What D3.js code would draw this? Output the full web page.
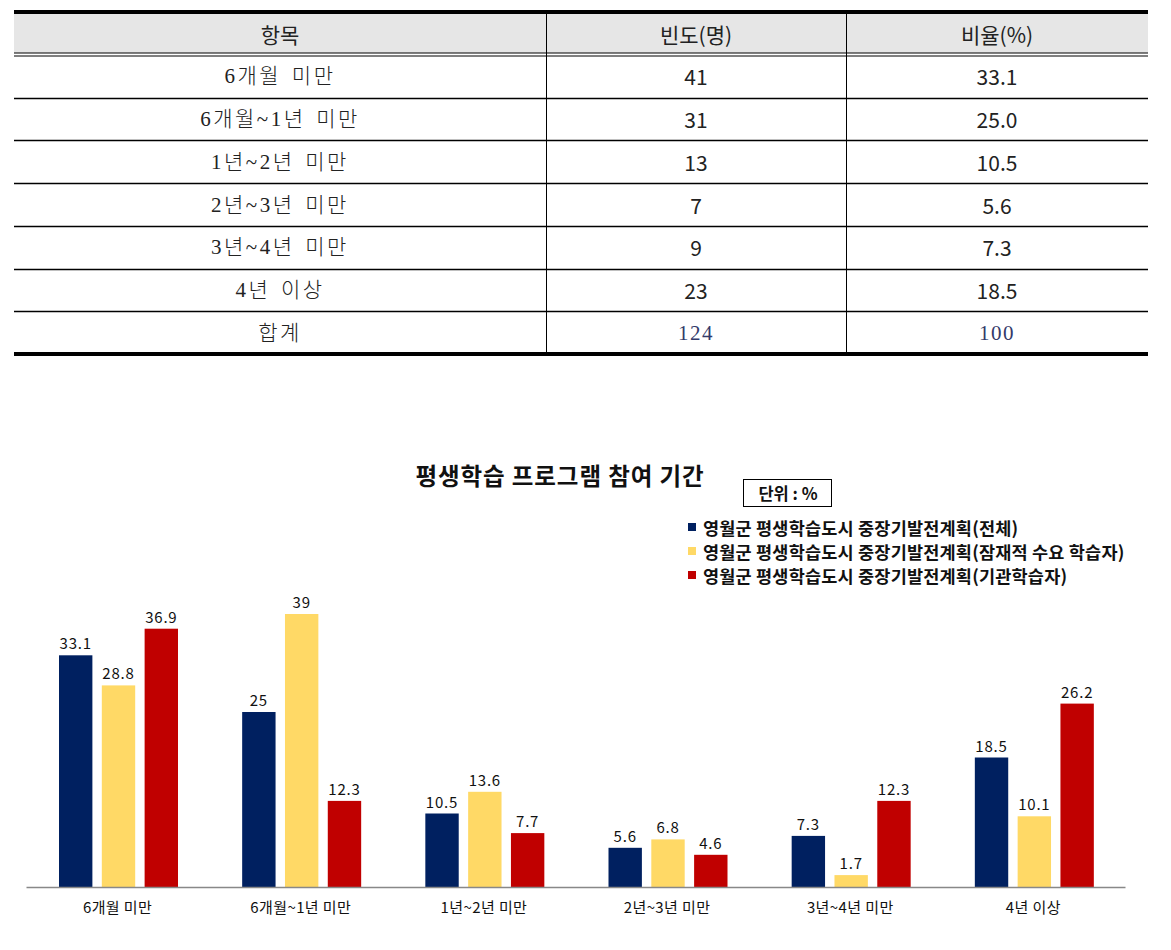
<!DOCTYPE html>
<html><head><meta charset="utf-8">
<script src="https://cdn.jsdelivr.net/npm/d3@7"></script>
<style>
html,body{margin:0;padding:0;background:#fff;}
svg{display:block;}
</style></head>
<body>
<svg id="c" width="1171" height="950"></svg>
<script>
// ---- table data ----
const tableHeaders = ["항목", "빈도(명)", "비율(%)"];
const tableItems = ["6개월 미만", "6개월~1년 미만", "1년~2년 미만", "2년~3년 미만", "3년~4년 미만", "4년 이상", "합계"];
const tableCounts = ["41", "31", "13", "7", "9", "23", "124"];
const tableRatios = ["33.1", "25.0", "10.5", "5.6", "7.3", "18.5", "100"];

// ---- chart data ----
const chartTitle = "평생학습 프로그램 참여 기간";
const unitLabel = "단위 : %";
const categories = ["6개월 미만", "6개월~1년 미만", "1년~2년 미만", "2년~3년 미만", "3년~4년 미만", "4년 이상"];
const seriesNames = [
  "영월군 평생학습도시 중장기발전계획(전체)",
  "영월군 평생학습도시 중장기발전계획(잠재적 수요 학습자)",
  "영월군 평생학습도시 중장기발전계획(기관학습자)"
];
const seriesAll = [33.1, 25, 10.5, 5.6, 7.3, 18.5];
const seriesPotential = [28.8, 39, 13.6, 6.8, 1.7, 10.1];
const seriesInstitution = [36.9, 12.3, 7.7, 4.6, 12.3, 26.2];
const seriesColors = ["#002060", "#FFD966", "#C00000"];

const svg = d3.select("#c");
const sans = "'Noto Sans CJK KR','Noto Sans',sans-serif";
const serif = "'Liberation Serif','Noto Sans CJK KR',serif";

// ================= TABLE =================
const tx = d3.scaleOrdinal().domain([0,1,2]).range([14, 546, 846]);
const colEnds = [546, 846, 1148];
const tLeft = 14, tRight = 1148;
const rowY = d3.scaleBand().domain(d3.range(tableItems.length)).range([55, 354]);
const tbl = svg.append("g");

tbl.append("rect").attr("x", tLeft).attr("y", 13).attr("width", tRight - tLeft).attr("height", 40).attr("fill", "#e6e6e6");
tbl.selectAll("text.h").data(tableHeaders).join("text")
  .attr("x", (d,i) => (tx(i) + colEnds[i]) / 2).attr("y", 34)
  .attr("text-anchor", "middle").attr("dominant-baseline", "central")
  .attr("font-family", sans).attr("font-size", 21).attr("fill", "#222").text(d => d);

const rows = tbl.selectAll("g.r").data(tableItems.map((d,i) => ({item: d, count: tableCounts[i], ratio: tableRatios[i], i})))
  .join("g").attr("transform", d => `translate(0,${rowY(d.i) + rowY.bandwidth()/2})`);
rows.append("text").attr("x", (tx(0) + colEnds[0]) / 2).attr("y", 0)
  .attr("text-anchor", "middle").attr("dominant-baseline", "central")
  .attr("font-family", serif).attr("font-size", 21).attr("font-weight", 300).attr("letter-spacing", 2.5).attr("word-spacing", 3)
  .attr("fill", "#222").text(d => d.item);
const isTotal = d => d.i === tableItems.length - 1;
rows.append("text").attr("x", (tx(1) + colEnds[1]) / 2).attr("y", 0)
  .attr("text-anchor", "middle").attr("dominant-baseline", "central")
  .attr("font-family", d => isTotal(d) ? serif : sans).attr("font-size", 21)
  .attr("letter-spacing", d => isTotal(d) ? 1.5 : 0)
  .attr("fill", d => isTotal(d) ? "#333a6a" : "#222").text(d => d.count);
rows.append("text").attr("x", (tx(2) + colEnds[2]) / 2).attr("y", 0)
  .attr("text-anchor", "middle").attr("dominant-baseline", "central")
  .attr("font-family", d => isTotal(d) ? serif : sans).attr("font-size", 21)
  .attr("letter-spacing", d => isTotal(d) ? 1.5 : 0)
  .attr("fill", d => isTotal(d) ? "#333a6a" : "#222").text(d => d.ratio);

tbl.append("rect").attr("x", tLeft).attr("y", 10).attr("width", tRight - tLeft).attr("height", 4).attr("fill", "#000");
tbl.append("line").attr("x1", tLeft).attr("x2", tRight).attr("y1", 53).attr("y2", 53).attr("stroke", "#000").attr("stroke-width", 1);
tbl.append("line").attr("x1", tLeft).attr("x2", tRight).attr("y1", 56).attr("y2", 56).attr("stroke", "#000").attr("stroke-width", 1);
tbl.selectAll("line.rl").data(d3.range(1, tableItems.length)).join("line")
  .attr("x1", tLeft).attr("x2", tRight)
  .attr("y1", d => Math.round(rowY(d)) + 0.5).attr("y2", d => Math.round(rowY(d)) + 0.5)
  .attr("stroke", "#000").attr("stroke-width", 1.3);
tbl.append("rect").attr("x", tLeft).attr("y", 352).attr("width", tRight - tLeft).attr("height", 4).attr("fill", "#000");
tbl.selectAll("line.cl").data([1,2]).join("line")
  .attr("x1", d => tx(d) + 0.5).attr("x2", d => tx(d) + 0.5).attr("y1", 14).attr("y2", 352)
  .attr("stroke", "#000").attr("stroke-width", 1);

// ================= CHART =================
const ch = svg.append("g");
ch.append("text").attr("x", 560).attr("y", 475).attr("text-anchor", "middle").attr("dominant-baseline", "central")
  .attr("font-family", sans).attr("font-weight", "bold").attr("font-size", 23.5).attr("letter-spacing", 0.9)
  .attr("fill", "#111").text(chartTitle);

ch.append("rect").attr("x", 743.5).attr("y", 479.5).attr("width", 88).attr("height", 27).attr("fill", "#fff").attr("stroke", "#000").attr("stroke-width", 1);
ch.append("text").attr("x", 788).attr("y", 493).attr("text-anchor", "middle").attr("dominant-baseline", "central")
  .attr("font-family", sans).attr("font-weight", "bold").attr("font-size", 16.5).attr("fill", "#111").text(unitLabel);

const leg = ch.selectAll("g.leg").data(seriesNames).join("g")
  .attr("transform", (d,i) => `translate(688,${527 + i*24})`);
leg.append("rect").attr("x", 0).attr("y", -4).attr("width", 8).attr("height", 8).attr("fill", (d,i) => seriesColors[i]);
leg.append("text").attr("x", 15).attr("y", 0).attr("dominant-baseline", "central")
  .attr("font-family", sans).attr("font-weight", "bold").attr("font-size", 17.5).attr("letter-spacing", 0.2)
  .attr("fill", "#111").text(d => d);

const baseline = 887;
const x0 = d3.scaleBand().domain(categories).range([26, 1125]).paddingInner(0).paddingOuter(0);
const x1 = d3.scaleBand().domain([0,1,2]).range([33, 152]).paddingInner(0.22);
const y = d3.scaleLinear().domain([0, 40]).range([baseline, baseline - 280]);
const allSeries = [seriesAll, seriesPotential, seriesInstitution];

const grp = ch.selectAll("g.grp").data(categories).join("g")
  .attr("transform", d => `translate(${x0(d)},0)`);
grp.selectAll("rect").data((d,ci) => allSeries.map((s,si) => ({v: s[ci], si})))
  .join("rect")
  .attr("x", d => x1(d.si)).attr("width", x1.bandwidth())
  .attr("y", d => y(d.v)).attr("height", d => baseline - y(d.v))
  .attr("fill", d => seriesColors[d.si]);
grp.selectAll("text.v").data((d,ci) => allSeries.map((s,si) => ({v: s[ci], si})))
  .join("text").attr("class", "v")
  .attr("x", d => x1(d.si) + x1.bandwidth()/2).attr("y", d => y(d.v) - 6)
  .attr("text-anchor", "middle")
  .attr("font-family", sans).attr("font-size", 15).attr("letter-spacing", 0.8).attr("fill", "#111").text(d => d.v);

const xAxis = ch.append("g").attr("transform", `translate(0,${baseline})`)
  .call(d3.axisBottom(x0).tickSize(0).tickPadding(15));
xAxis.select(".domain").attr("stroke", "#888").attr("stroke-width", 1.3);
xAxis.selectAll("text").attr("font-family", sans).attr("font-size", 15).attr("letter-spacing", 0.4).attr("fill", "#111");
</script>
</body></html>
